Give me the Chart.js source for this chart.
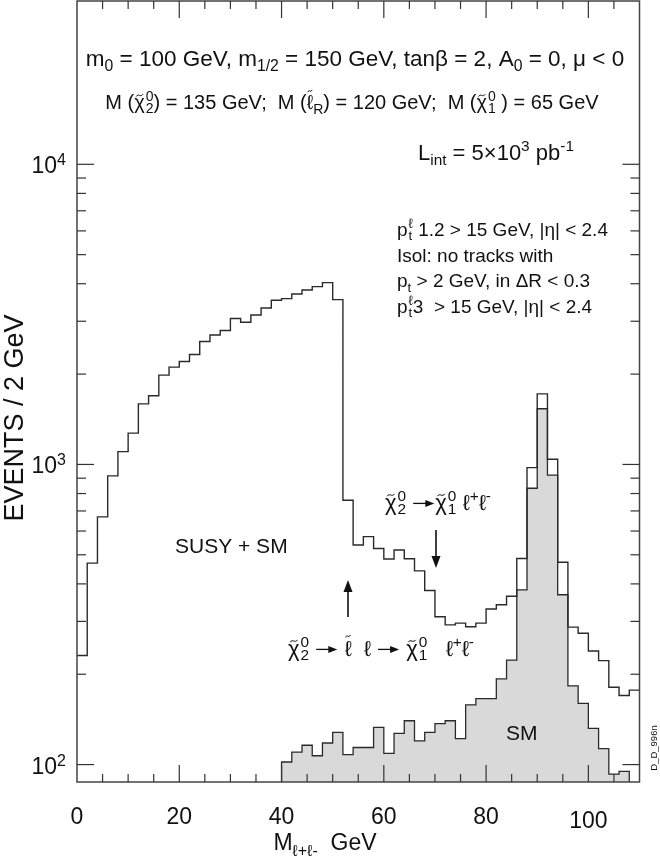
<!DOCTYPE html>
<html>
<head>
<meta charset="utf-8">
<script src="https://cdn.jsdelivr.net/npm/chart.js@4.4.0/dist/chart.umd.min.js"></script>
<style>
  html, body { margin: 0; padding: 0; background: #fff; }
  #wrap { width: 660px; height: 859px; position: relative; }
</style>
</head>
<body>
<div id="wrap"><canvas id="chart" width="660" height="859"></canvas></div>
<script>
// Lower edge of each 2 GeV bin
const massBins = [0, 2, 4, 6, 8, 10, 12, 14, 16, 18, 20, 22, 24, 26, 28, 30, 32, 34, 36, 38,
    40, 42, 44, 46, 48, 50, 52, 54, 56, 58, 60, 62, 64, 66, 68, 70, 72, 74, 76, 78,
    80, 82, 84, 86, 88, 90, 92, 94, 96, 98, 100, 102, 104, 106, 108];

// SUSY + SM events per bin
const susySmCounts = [231, 469, 669, 916, 1103, 1272, 1592, 1693, 1984, 2110,
    2203, 2325, 2568, 2701, 2793, 3062, 2977, 3148, 3321, 3523,
    3569, 3697, 3812, 3912, 4035, 3541, 760, 539, 575, 525,
    484, 519, 485, 442, 380, 311, 292, 296, 288, 296,
    330, 341, 364, 486, 976, 1719, 1041, 472, 287, 274,
    239, 222, 181, 170, 177];

// SM only events per bin (null = empty)
const smCounts = [null, null, null, null, null, null, null, null, null, null,
    null, null, null, null, null, null, null, null, null, null,
    102, 110, 116, 107, 118, 128, 108, 114, 114, 133,
    109, 127, 140, 120, 128, 137, 140, 122, 158, 166,
    166, 193, 223, 382, 833, 1533, 921, 368, 183, 160,
    132, 113, 93, 95, null];

const xTickValues = [0, 20, 40, 60, 80, 100];
const xTickLabels = ['0', '20', '40', '60', '80', '100'];
const yDecades = [2, 3, 4];

// Configuration
const binWidth = 2;
const axis = { xMin: 0, xMax: 110, yMin: 87.5, yMax: 35000 };
const FONT = '"Liberation Sans", Arial, Helvetica, sans-serif';
const INK = '#111';
const LINE = '#2a2a2a';

const CHI = '~{\u03C7}';
const SLEP = '~{\u2113}';
const ELL = '\u2113';

// Text blocks (pixel anchored)
const texts = [
    { s: 'm_{0} = 100 GeV, m_{1/2} = 150 GeV, tan\u03B2 = 2, A_{0} = 0, \u03BC < 0', x: 355, y: 66, size: 22.5, align: 'center' },
    { s: `M (${CHI}@{0|2}) = 135 GeV;  M (${SLEP}_{R}) = 120 GeV;  M (${CHI}@{0|1} ) = 65 GeV`, x: 352, y: 109, size: 20, align: 'center' },
    { s: 'L_{int} = 5\u00D710^{3} pb^{-1}', x: 418, y: 160, size: 22 },
    { s: `p@{${ELL}|t} 1.2 > 15 GeV, |\u03B7| < 2.4`, x: 397, y: 236, size: 19 },
    { s: 'Isol: no tracks with', x: 397, y: 262, size: 19 },
    { s: 'p_{t} > 2 GeV, in \u0394R < 0.3', x: 397, y: 287, size: 19 },
    { s: `p@{${ELL}|t}3  > 15 GeV, |\u03B7| < 2.4`, x: 397, y: 313, size: 19 },
    { s: 'SUSY + SM', x: 175, y: 553, size: 21 },
    { s: 'SM', x: 506, y: 740, size: 21 },
    { s: `${CHI}@{0|2} {->}${CHI}@{0|1} ${ELL}^{+}${ELL}^{-}`, x: 385, y: 510, size: 22 },
    { s: `${CHI}@{0|2} {->} ${SLEP}  ${ELL} {->} ${CHI}@{0|1}   ${ELL}^{+}${ELL}^{-}`, x: 288, y: 656, size: 22 }
];

// Arrows: x, from y (tail) to y (head)
const arrows = [
    { x: 436, y0: 530, y1: 568 },
    { x: 348, y0: 617, y1: 580 }
];

// Small markup: _{sub} ^{sup} @{sup|sub} ~{tilde} {->}
function parseRich(s) {
    const out = [];
    let buf = '';
    let i = 0;
    const flush = () => { if (buf) { out.push({ k: 'n', t: buf }); buf = ''; } };
    while (i < s.length) {
        const c = s[i];
        if ((c === '_' || c === '^' || c === '@' || c === '~') && s[i + 1] === '{') {
            const end = s.indexOf('}', i + 2);
            const inner = s.slice(i + 2, end);
            flush();
            if (c === '@') {
                const parts = inner.split('|');
                out.push({ k: 'stack', a: parts[0], b: parts[1] });
            } else if (c === '~') {
                out.push({ k: 'tilde', t: inner });
            } else {
                out.push({ k: c === '_' ? 'sub' : 'sup', t: inner });
            }
            i = end + 1;
        } else if (s.startsWith('{->}', i)) {
            flush();
            out.push({ k: 'arrow' });
            i += 4;
        } else {
            buf += c;
            i++;
        }
    }
    flush();
    return out;
}

function drawRich(ctx, s, x, y, size, align) {
    const toks = parseRich(s);
    const small = size * 0.7;
    const bigF = size + 'px ' + FONT;
    const smallF = small + 'px ' + FONT;
    const widthOf = (t) => {
        if (t.k === 'n' || t.k === 'tilde') { ctx.font = bigF; return ctx.measureText(t.t).width; }
        if (t.k === 'arrow') return size * 1.05;
        ctx.font = smallF;
        if (t.k === 'stack') return Math.max(ctx.measureText(t.a).width, ctx.measureText(t.b).width) + 1;
        return ctx.measureText(t.t).width;
    };
    const widths = toks.map(widthOf);
    const total = widths.reduce((a, b) => a + b, 0);
    let cx = align === 'center' ? x - total / 2 : align === 'right' ? x - total : x;
    ctx.textAlign = 'left';
    ctx.textBaseline = 'alphabetic';
    ctx.fillStyle = INK;
    ctx.strokeStyle = INK;
    toks.forEach((t, i) => {
        if (t.k === 'n') {
            ctx.font = bigF;
            ctx.fillText(t.t, cx, y);
        } else if (t.k === 'tilde') {
            ctx.font = bigF;
            ctx.fillText(t.t, cx, y);
            const w = widths[i];
            const ty = y - size * (t.t === '\u2113' ? 0.9 : 0.68);
            const x0 = cx + w * 0.18, tw = w * 0.64;
            ctx.lineWidth = 1;
            ctx.beginPath();
            ctx.moveTo(x0, ty + 1.2);
            ctx.bezierCurveTo(x0 + tw * 0.3, ty - 2.6, x0 + tw * 0.7, ty + 2.6, x0 + tw, ty - 1.2);
            ctx.stroke();
        } else if (t.k === 'sub') {
            ctx.font = smallF;
            ctx.fillText(t.t, cx, y + size * 0.24);
        } else if (t.k === 'sup') {
            ctx.font = smallF;
            ctx.fillText(t.t, cx, y - size * 0.4);
        } else if (t.k === 'stack') {
            ctx.font = smallF;
            ctx.fillText(t.a, cx + 1, y - size * 0.42);
            ctx.fillText(t.b, cx + 1, y + size * 0.2);
        } else if (t.k === 'arrow') {
            const ay = y - size * 0.3;
            const x0 = cx + 1, x1 = cx + widths[i] - 1;
            ctx.lineWidth = 1.3;
            ctx.beginPath(); ctx.moveTo(x0, ay); ctx.lineTo(x1 - 6, ay); ctx.stroke();
            ctx.beginPath(); ctx.moveTo(x1, ay); ctx.lineTo(x1 - 9, ay - 3.5); ctx.lineTo(x1 - 9, ay + 3.5); ctx.closePath(); ctx.fill();
        }
        cx += widths[i];
    });
}

// Build step points
function totalPoints() {
    const pts = massBins.map((x, i) => ({ x: x, y: susySmCounts[i] }));
    pts.push({ x: massBins[massBins.length - 1] + binWidth, y: susySmCounts[susySmCounts.length - 1] });
    return pts;
}

function smPoints() {
    const pts = [];
    smCounts.forEach((v, i) => {
        if (v === null) return;
        if (i === 0 || smCounts[i - 1] === null) pts.push({ x: massBins[i], y: axis.yMin });
        pts.push({ x: massBins[i], y: v });
        if (i === smCounts.length - 1 || smCounts[i + 1] === null) pts.push({ x: massBins[i] + binWidth, y: axis.yMin });
    });
    return pts;
}

// Frame, inward ticks and all text
const framePlugin = {
    id: 'frame',
    afterDraw(chart) {
        const ctx = chart.ctx;
        const a = chart.chartArea;
        const xs = chart.scales.x;
        const ys = chart.scales.y;
        const line = (x0, y0, x1, y1) => { ctx.beginPath(); ctx.moveTo(x0, y0); ctx.lineTo(x1, y1); ctx.stroke(); };
        ctx.save();

        ctx.strokeStyle = '#444';
        ctx.lineWidth = 1.5;
        ctx.strokeRect(a.left, a.top, a.right - a.left, a.bottom - a.top);

        ctx.strokeStyle = '#333';
        ctx.lineWidth = 1.2;
        for (let v = 5; v < axis.xMax; v += 5) {
            const px = xs.getPixelForValue(v);
            const len = v % 20 === 0 ? 17 : 8;
            line(px, a.bottom, px, a.bottom - len);
            line(px, a.top, px, a.top + len);
        }
        yDecades.forEach(d => {
            const base = Math.pow(10, d);
            const py = ys.getPixelForValue(base);
            line(a.left, py, a.left + 17, py);
            line(a.right, py, a.right - 17, py);
            if (d < yDecades[yDecades.length - 1]) {
                for (let m = 2; m <= 9; m++) {
                    const p = ys.getPixelForValue(m * base);
                    line(a.left, p, a.left + 9, p);
                    line(a.right, p, a.right - 9, p);
                }
            }
        });

        // Tick labels
        ctx.fillStyle = INK;
        ctx.textBaseline = 'alphabetic';
        ctx.textAlign = 'center';
        ctx.font = '23px ' + FONT;
        xTickValues.forEach((v, i) => {
            const px = xs.getPixelForValue(v);
            ctx.fillText(xTickLabels[i], px, a.bottom + (v >= 100 ? 46 : 42));
        });
        yDecades.forEach(d => {
            const py = ys.getPixelForValue(Math.pow(10, d));
            ctx.textAlign = 'right';
            ctx.font = '16px ' + FONT;
            const ew = ctx.measureText(String(d)).width;
            ctx.fillText(String(d), a.left - 11, py + 1);
            ctx.font = '23px ' + FONT;
            ctx.fillText('10', a.left - 11 - ew, py + 9);
        });

        // Axis titles
        drawRich(ctx, `M_{${ELL}+${ELL}-}  GeV`, 325, 850, 23, 'center');
        ctx.save();
        ctx.translate(16, 418);
        ctx.rotate(-Math.PI / 2);
        ctx.textAlign = 'center';
        ctx.textBaseline = 'middle';
        ctx.font = '27px ' + FONT;
        ctx.fillText('EVENTS / 2 GeV', 0, 0);
        ctx.restore();

        // Plot id
        ctx.save();
        ctx.translate(654, 748);
        ctx.rotate(-Math.PI / 2);
        ctx.textAlign = 'center';
        ctx.textBaseline = 'middle';
        ctx.font = '9.5px ' + FONT;
        ctx.fillText('D_D_996n', 0, 0);
        ctx.restore();

        // Annotations
        texts.forEach(t => drawRich(ctx, t.s, t.x, t.y, t.size, t.align));
        ctx.strokeStyle = INK;
        ctx.fillStyle = INK;
        ctx.lineWidth = 1.6;
        arrows.forEach(ar => {
            const dir = ar.y1 > ar.y0 ? 1 : -1;
            line(ar.x, ar.y0, ar.x, ar.y1 - dir * 8);
            ctx.beginPath();
            ctx.moveTo(ar.x, ar.y1);
            ctx.lineTo(ar.x - 4.5, ar.y1 - dir * 12);
            ctx.lineTo(ar.x + 4.5, ar.y1 - dir * 12);
            ctx.closePath();
            ctx.fill();
        });
        ctx.restore();
    }
};

new Chart(document.getElementById('chart').getContext('2d'), {
    type: 'line',
    data: {
        datasets: [
            {
                label: 'SUSY + SM',
                data: totalPoints(),
                stepped: 'before',
                borderColor: LINE,
                borderWidth: 1.4,
                pointRadius: 0,
                fill: false
            },
            {
                label: 'SM',
                data: smPoints(),
                stepped: 'before',
                borderColor: LINE,
                borderWidth: 1.3,
                backgroundColor: '#d9d9d9',
                pointRadius: 0,
                fill: 'start'
            }
        ]
    },
    options: {
        responsive: false,
        animation: false,
        layout: { padding: { left: 77, right: 20.5, top: 1, bottom: 77 } },
        plugins: { legend: { display: false }, tooltip: { enabled: false } },
        scales: {
            x: { type: 'linear', min: axis.xMin, max: axis.xMax, display: false },
            y: { type: 'logarithmic', min: axis.yMin, max: axis.yMax, display: false }
        }
    },
    plugins: [framePlugin]
});
</script>
</body>
</html>
